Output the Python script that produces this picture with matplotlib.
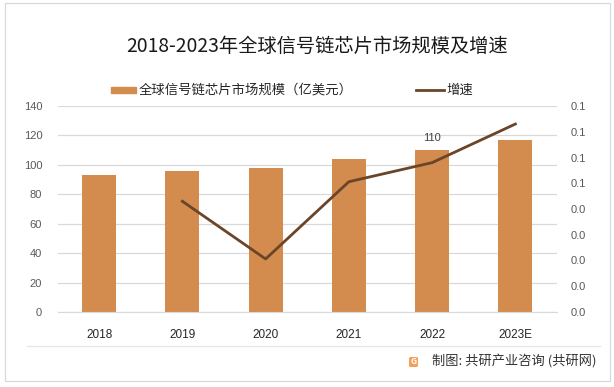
import matplotlib
matplotlib.use("Agg")
import matplotlib.pyplot as plt
from matplotlib.patches import Rectangle, FancyBboxPatch
from matplotlib.lines import Line2D

plt.rcParams['font.family'] = ['Noto Sans CJK SC', 'DejaVu Sans']

years = ["2018", "2019", "2020", "2021", "2022", "2023E"]
market_size = [93, 96, 98, 104, 110, 117]
growth_years = ["2019", "2020", "2021", "2022", "2023E"]
growth = [0.043, 0.0206, 0.0506, 0.058, 0.073]
left_ticks = [0, 20, 40, 60, 80, 100, 120, 140]
right_ticks = [0.0, 0.01, 0.02, 0.03, 0.04, 0.05, 0.06, 0.07, 0.08]
labeled_year = "2022"

title = "2018-2023年全球信号链芯片市场规模及增速"
bar_label = "全球信号链芯片市场规模（亿美元）"
line_label = "增速"
source = "制图: 共研产业咨询 (共研网)"

bar_color = "#D38B4E"
line_color = "#6A4529"
grid_color = "#D9D9D9"
tick_color = "#595959"
num_font = ["Liberation Sans", "DejaVu Sans"]

W, H = 614, 387
fig = plt.figure(figsize=(W / 100, H / 100), dpi=100)

# outer border
fig.add_artist(Rectangle((5 / W, 1 - 381 / H), 605 / W, 378 / H, transform=fig.transFigure,
                         fill=False, edgecolor="#D9D9D9", linewidth=0.9))
# separator line
fig.add_artist(Line2D([27 / W, 600 / W], [1 - 346 / H, 1 - 346 / H], transform=fig.transFigure,
                      color="#E6E6E6", linewidth=0.9))

ax = fig.add_axes([57.5 / W, 1 - 312 / H, (557 - 57.5) / W, (312 - 106) / H])
x = list(range(len(years)))
ax.bar(x, market_size, width=0.41, color=bar_color, zorder=2)
ax.set_ylim(0, 140)
ax.set_xlim(-0.5, len(years) - 0.5)
ax.set_yticks(left_ticks)
ax.set_xticks(x)
ax.set_xticklabels(years, fontsize=8.5, color="#262626", family=num_font)
ax.set_yticklabels([str(v) for v in left_ticks], family=num_font)
ax.tick_params(axis='x', length=0, pad=12)
ax.tick_params(axis='y', length=0, pad=11, labelsize=8, labelcolor=tick_color)
for s in ["top", "right", "left"]:
    ax.spines[s].set_visible(False)
ax.spines["bottom"].set_color(grid_color)
ax.yaxis.grid(True, color=grid_color, linewidth=0.9, zorder=0)
ax.set_axisbelow(True)

i = years.index(labeled_year)
ax.text(i, market_size[i] + 5, f"{market_size[i]}", ha="center", va="bottom",
        fontsize=8, color="#404040", family=num_font)

ax2 = ax.twinx()
gx = [years.index(y) for y in growth_years]
ax2.plot(gx, growth, color=line_color, linewidth=2.0, zorder=3)
ax2.set_ylim(0, 0.08)
ax2.set_yticks(right_ticks)
ax2.set_yticklabels([f"{v + 1e-9:.1f}" for v in right_ticks], family=num_font)
ax2.tick_params(axis='y', length=0, pad=10, labelsize=8, labelcolor=tick_color)
for s in ["top", "right", "left", "bottom"]:
    ax2.spines[s].set_visible(False)

# title
fig.text(317 / W, 1 - 46 / H, title, ha="center", va="center", fontsize=13.9, color="#1a1a1a")

# legend
fig.add_artist(Rectangle((111 / W, 1 - 93 / H), 25 / W, 6 / H, transform=fig.transFigure,
                         color=bar_color))
fig.text(139 / W, 1 - 90 / H, bar_label, ha="left", va="center", fontsize=9.6, color="#262626")
fig.add_artist(Line2D([416 / W, 444 / W], [1 - 90 / H, 1 - 90 / H], transform=fig.transFigure,
                      color=line_color, linewidth=2.0))
fig.text(446 / W, 1 - 90 / H, line_label, ha="left", va="center", fontsize=9.6, color="#262626")

# footer
fig.add_artist(FancyBboxPatch((409 / W, 1 - 367 / H), 9 / W, 10 / H, transform=fig.transFigure,
                              boxstyle="round,pad=0,rounding_size=0.003",
                              facecolor="#F5A05A", edgecolor="none"))
fig.text(413.5 / W, 1 - 362 / H, "G", ha="center", va="center", fontsize=6, fontweight="bold",
         color="white")
fig.text(432 / W, 1 - 362 / H, source, ha="left", va="center", fontsize=9.5, color="#333333")

fig.savefig("out.png", dpi=100)
